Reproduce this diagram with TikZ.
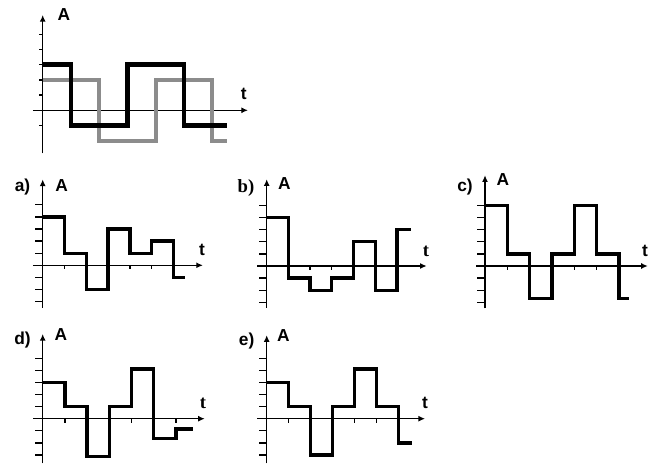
\documentclass[tikz,border=0pt]{standalone}
\usepackage{fontspec}
\setmainfont{Liberation Sans}
\newfontfamily\timesfont{Liberation Serif}
\usetikzlibrary{arrows.meta}
\tikzset{
  ax/.style={draw=black, line width=1pt, -{Latex[length=5pt,width=4.5pt]}},
  tk/.style={draw=black, line width=1pt},
  sig/.style={draw=black, line width=2.5pt, line join=miter},
  sigbig/.style={draw=black, line width=3.3pt, line join=miter},
  sigshade/.style={draw=black!45, line width=3pt, line join=miter},
  lab/.style={font=\bfseries\fontsize{13}{14}\selectfont, inner sep=0pt},
  labs/.style={lab, font=\timesfont\bfseries\fontsize{14}{15}\selectfont},
}
% axes of one small plot: y from #1 to #2, t from #3 to #4
\newcommand{\drawframe}[4]{%
  \draw[ax] (0,#1) -- (0,#2);
  \draw[ax] (#3,0) -- (#4,0);
  \foreach \k in {-3,-2,-1,1,2,3,4,5} \draw[tk] (0,\k) -- ++(-6pt,0);
  \foreach \k in {1,...,6} \draw[tk] (\k,0) -- ++(0,-3pt);
}
\begin{document}
\begin{tikzpicture}[x=0.75pt,y=0.75pt]
  \useasboundingbox (0,0) rectangle (660,464);

  % top: the two square waves
  \begin{scope}[shift={(42.7,353.7)}, x=21.15pt, y=11.4pt]
    \draw[ax] (0,-2.83) -- (0,6.27);
    \draw[ax] (-0.35,0) -- (7.28,0);
    \foreach \k in {-1,1,2,3,4,5} \draw[tk] (0,\k) -- ++(-3pt,0);
    \draw[sigshade] (0,2) -| (2,-2) -| (4,2) -| (6,-2) -- (6.55,-2);
    \draw[sigbig] (0,3) -| (1,-1) -| (3,3) -| (5,-1) -- (6.55,-1);
  \end{scope}
  \node[lab] (Atop) at (64,449) {A};
  \node[lab] (ttop) at (243.7,370) {t};

  % a)
  \begin{scope}[shift={(42.7,198.7)}, x=16.35pt, y=9.075pt]
    \drawframe{-3.5}{7.1}{-0.45}{7.35}
    \draw[sig] (0,4) -| (1,1) -| (2,-2) -| (3,3) -| (4,1) -| (5,2) -| (6,-1) -- (6.55,-1);
  \end{scope}
  \node[lab] (na) at (22.5,276.5) {a)};
  \node[lab] (Aa) at (61.7,278.7) {A};
  \node[lab] (ta) at (202,214) {t};

  % b)
  \begin{scope}[shift={(266.7,198)}, x=16.28pt, y=9.075pt]
    \drawframe{-3.47}{7.17}{-0.43}{7.37}
    \draw[sig] (0,4) -| (1,-1) -| (2,-2) -| (3,-1) -| (4,2) -| (5,-2) -| (6,3) -- (6.65,3);
  \end{scope}
  \node[labs] (nb) at (246,276) {b)};
  \node[lab] (Ab) at (284.5,280) {A};
  \node[labs] (tb) at (426,213) {t};

  % c)
  \begin{scope}[shift={(485,198)}, x=16.73pt, y=9.075pt]
    \drawframe{-3.5}{7.5}{-0.4}{7.3}
    \draw[sig] (0,5) -| (1,1) -| (2,-2.7) -| (3,1) -| (4,5) -| (5,1) -| (6,-2.7) -- (6.45,-2.7);
  \end{scope}
  \node[lab] (nc) at (465,276.5) {c)};
  \node[lab] (Ac) at (503,284) {A};
  \node[lab] (tc) at (645,213) {t};

  % d)
  \begin{scope}[shift={(42.7,45.3)}, x=16.65pt, y=9.075pt]
    \drawframe{-3.7}{7.0}{-0.43}{7.3}
    \draw[sig] (0,3) -| (1,1) -| (2,-3.1) -| (3,1) -| (4,4.1) -| (5,-1.65) -| (6,-0.85) -- (6.75,-0.85);
  \end{scope}
  \node[lab] (nd) at (22.5,124) {d)};
  \node[lab] (Ad) at (61,129) {A};
  \node[labs] (td) at (203,61) {t};

  % e)
  \begin{scope}[shift={(266.7,45.3)}, x=16.5pt, y=9.075pt]
    \drawframe{-3.7}{6.9}{-0.43}{7.2}
    \draw[sig] (0,3) -| (1,1) -| (2,-3) -| (3,1) -| (4,4.1) -| (5,1) -| (6,-2) -- (6.6,-2);
  \end{scope}
  \node[lab] (ne) at (246.7,123) {e)};
  \node[lab] (Ae) at (283.5,128) {A};
  \node[lab] (te) at (425,61) {t};
\end{tikzpicture}
\end{document}
